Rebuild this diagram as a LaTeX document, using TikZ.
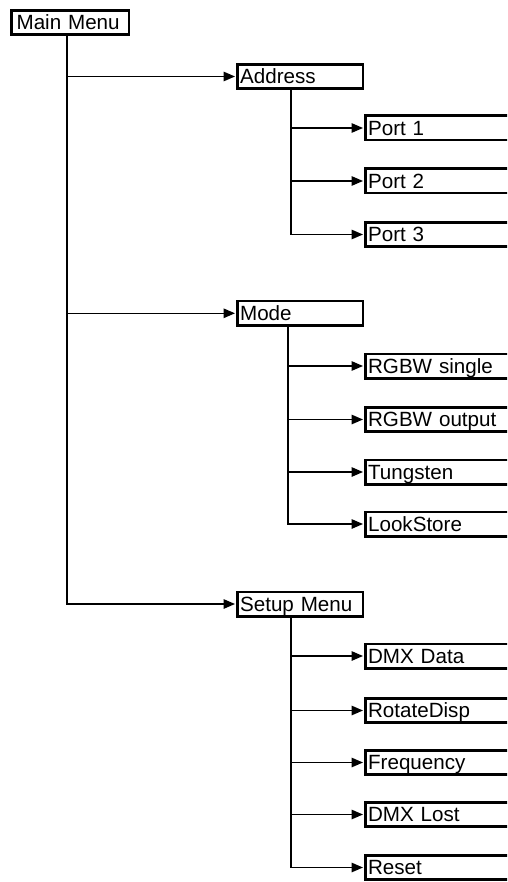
\documentclass[tikz,border=0pt]{standalone}
\usepackage{fontspec}
\setmainfont{Liberation Sans}
\usetikzlibrary{arrows.meta}
\begin{document}
\begin{tikzpicture}[x=1pt,y=-1pt,
  box/.style={draw, line width=2.6pt, anchor=west, inner ysep=0pt, inner xsep=2.5pt,
    minimum height=24.4pt, text height=14.6pt, text depth=0pt, text width=#1,
    align=left, font=\fontsize{20.6}{24}\selectfont},
  conn/.style={line width=1.5pt},
  arr/.style={conn, -{Triangle[length=11.5pt,width=9.5pt]}, shorten >=1.3pt}]
\useasboundingbox (0,0) rectangle (507,882);
\clip (0,0) rectangle (507,882);
% top level
\node[box=107.3pt, inner xsep=5pt] (main) at (10.3,22.5) {Main Menu};
% second level
\node[box=120.4pt] (address) at (236.3,76.5) {Address};
\node[box=120.4pt] (mode) at (236.3,313.3) {Mode};
\node[box=120.4pt] (setup) at (236.3,604) {Setup Menu};
% third level
\node[box=200pt] (p1) at (364.3,128) {Port 1};
\node[box=200pt] (p2) at (364.3,181) {Port 2};
\node[box=200pt] (p3) at (364.3,234.5) {Port 3};
\node[box=200pt] (m1) at (364.3,366) {RGBW single};
\node[box=200pt] (m2) at (364.3,419.5) {RGBW output};
\node[box=200pt] (m3) at (364.3,472) {Tungsten};
\node[box=200pt] (m4) at (364.3,524) {LookStore};
\node[box=200pt] (s1) at (364.3,656) {DMX Data};
\node[box=200pt] (s2) at (364.3,710.5) {RotateDisp};
\node[box=200pt] (s3) at (364.3,762.5) {Frequency};
\node[box=200pt] (s4) at (364.3,814.5) {DMX Lost};
\node[box=200pt] (s5) at (364.3,867.5) {Reset};
% trunk x positions
\coordinate (mx) at (67,0);
\coordinate (ax) at (291,0);
\coordinate (mdx) at (288,0);
\coordinate (sx) at (291,0);
% main trunk
\draw[arr] (main.south -| mx) |- (setup.west);
\draw[arr] (mx |- address.west) -- (address.west);
\draw[arr] (mx |- mode.west) -- (mode.west);
% address trunk
\draw[arr] (address.south -| ax) |- (p3.west);
\draw[arr] (ax |- p1.west) -- (p1.west);
\draw[arr] (ax |- p2.west) -- (p2.west);
% mode trunk
\draw[arr] (mode.south -| mdx) |- (m4.west);
\draw[arr] (mdx |- m1.west) -- (m1.west);
\draw[arr] (mdx |- m2.west) -- (m2.west);
\draw[arr] (mdx |- m3.west) -- (m3.west);
% setup trunk
\draw[arr] (setup.south -| sx) |- (s5.west);
\draw[arr] (sx |- s1.west) -- (s1.west);
\draw[arr] (sx |- s2.west) -- (s2.west);
\draw[arr] (sx |- s3.west) -- (s3.west);
\draw[arr] (sx |- s4.west) -- (s4.west);
\end{tikzpicture}
\end{document}
